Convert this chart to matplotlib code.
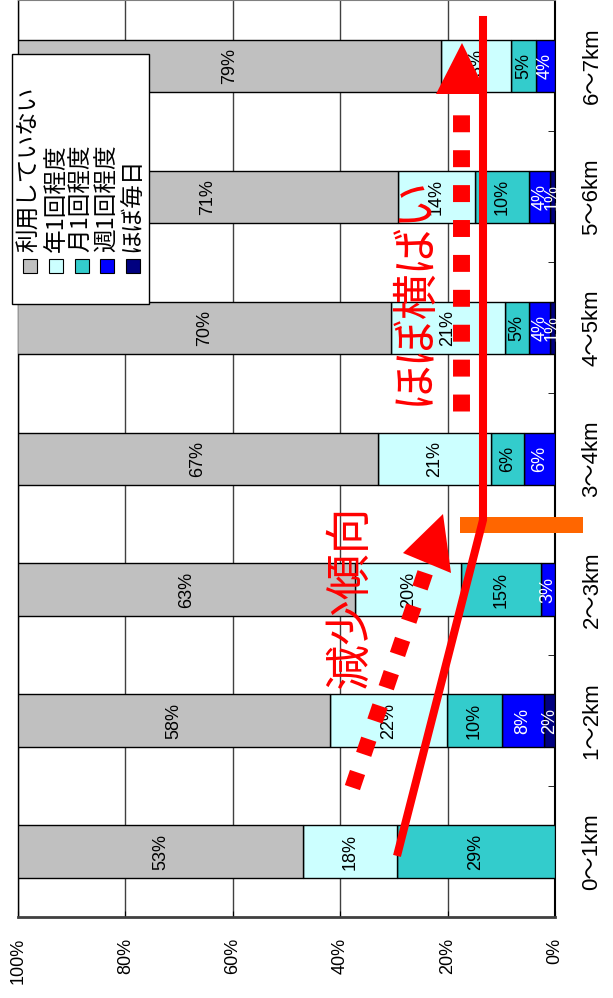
import matplotlib
matplotlib.use('Agg')
import matplotlib.pyplot as plt
from matplotlib.patches import Rectangle, Polygon

plt.rcParams['font.family'] = ['Liberation Sans', 'Noto Sans CJK JP']

categories = ['0～1km', '1～2km', '2～3km', '3～4km', '4～5km', '5～6km', '6～7km']
not_used = [53.1, 58.1, 62.8, 67.0, 69.6, 70.8, 78.8]
yearly = [17.5, 21.8, 19.7, 21.0, 21.1, 14.3, 13.0]
monthly = [29.4, 10.2, 14.8, 6.3, 4.6, 10.1, 4.7]
weekly = [0, 7.9, 2.7, 5.7, 3.9, 3.9, 3.5]
daily = [0, 2.0, 0, 0, 0.9, 0.9, 0]
legend_names = ['利用していない', '年1回程度', '月1回程度', '週1回程度', 'ほぼ毎日']
xticks = [0, 20, 40, 60, 80, 100]

# stacked from 0% outward: daily, weekly, monthly, yearly, not used
series = [(daily, '#000080', 'white'), (weekly, '#0000FF', 'white'),
          (monthly, '#33CCCC', 'black'), (yearly, '#CCFFFF', 'black'),
          (not_used, '#C0C0C0', 'black')]
legend_colors = ['#C0C0C0', '#CCFFFF', '#33CCCC', '#0000FF', '#000080']

W, H = 613, 998
fig = plt.figure(figsize=(W / 100, H / 100), dpi=100)
ax = fig.add_axes([18 / W, 1 - 917 / H, 537 / W, 917 / H - 0.0005])

y = list(range(len(categories)))
left = [0] * len(categories)
for vals, col, tcol in series:
    ax.barh(y, vals, left=left, height=0.4, color=col, edgecolor='black', linewidth=1, zorder=3)
    for i, v in enumerate(vals):
        if v > 0:
            ax.text(left[i] + v / 2, i, '%d%%' % int(v + 0.5), rotation=90, ha='center', va='center',
                    fontsize=13, color=tcol, zorder=4)
    left = [a + b for a, b in zip(left, vals)]

ax.set_xlim(100, 0)
ax.set_ylim(-0.5, len(categories) - 0.5)
ax.set_xticks(xticks)
ax.set_xticklabels(['%d%%' % t for t in xticks], rotation=90, va='top', ha='center')
ax.tick_params(axis='x', direction='in', length=4, pad=15, labelsize=13)
ax.grid(axis='x', color='#404040', linewidth=1, zorder=0)

ax.set_yticks(y)
ax.set_yticklabels(categories, rotation=90, va='center', ha='left')
ax.set_yticks([i - 0.5 for i in range(len(categories) + 1)], minor=True)
ax.tick_params(axis='y', which='major', length=0, pad=19, labelsize=16,
               labelleft=False, labelright=True, right=False, left=False)
ax.tick_params(axis='y', which='minor', direction='in', length=5, right=True, left=False)
ax.spines['left'].set_linewidth(1)
ax.spines['right'].set_linewidth(1.5)
ax.spines['bottom'].set_linewidth(2)
ax.spines['bottom'].set_color('#404040')
ax.spines['top'].set_color('#808080')

# overlay in pixel coordinates for the hand-drawn annotations
ov = fig.add_axes([0, 0, 1, 1], zorder=5)
ov.set_xlim(0, W)
ov.set_ylim(H, 0)
ov.axis('off')
ov.patch.set_alpha(0)

# legend (rotated)
ov.add_patch(Rectangle((12, 54), 137, 250, facecolor='white', edgecolor='black', linewidth=1))
for cx, name, col in zip([30, 56, 82, 107, 133], legend_names, legend_colors):
    ov.add_patch(Rectangle((cx - 7, 259), 14, 14, facecolor=col, edgecolor='black', linewidth=0.8))
    ov.text(cx, 252, name, rotation=90, ha='center', va='bottom', fontsize=17,
            family=['Noto Sans CJK JP'])

red = '#FF0000'
# orange marker
ov.add_patch(Rectangle((460, 517), 123, 16, facecolor='#FF6600', edgecolor='none'))
# solid trend line
ov.plot([398, 483, 483], [852, 520, 20], color=red, linewidth=5.8, solid_joinstyle='miter')
# dotted arrow (decrease)
ov.plot([352.4, 425.6], [787.6, 571.4], color=red, linewidth=11.5, linestyle=(0, (1, 1.2)),
        dash_capstyle='butt')
ov.add_patch(Polygon([(403, 553), (443, 514), (451, 573)], closed=True, facecolor=red, edgecolor='none'))
# dotted arrow (flat)
ov.plot([461, 461], [411, 113], color=red, linewidth=12.2, linestyle=(0, (1, 1.06)),
        dash_capstyle='butt')
ov.add_patch(Polygon([(436, 94), (462, 43), (487, 94)], closed=True, facecolor=red, edgecolor='none'))

ov.text(350, 597, '減少傾向', rotation=90, ha='center', va='center', fontsize=33, color=red,
        family=['Noto Sans CJK JP'])
ov.text(413, 290, 'ほぼ横ばい', rotation=90, ha='center', va='center', fontsize=33, color=red,
        family=['Noto Sans CJK JP'])

fig.savefig('out.png', dpi=100)
